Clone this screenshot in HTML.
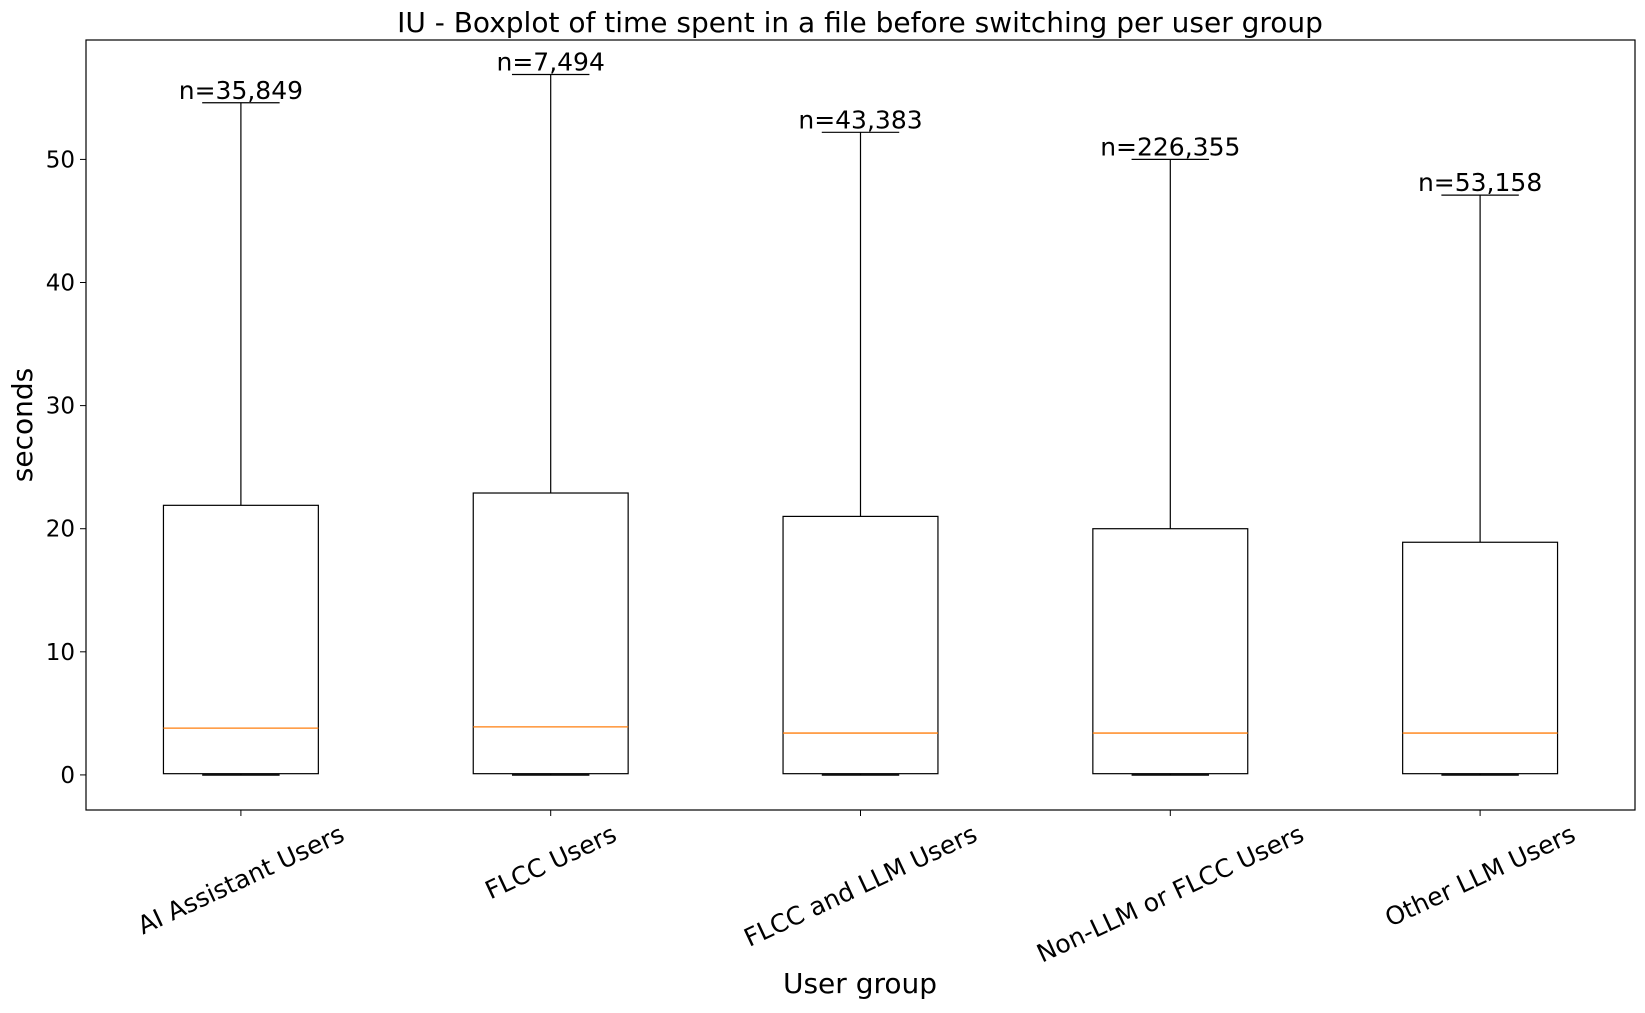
<!DOCTYPE html>
<html><head><meta charset="utf-8"><style>
html,body{margin:0;padding:0;background:#fff;}
svg text{font-family:"DejaVu Sans","Liberation Sans",sans-serif;fill:#000;}
</style></head><body>
<svg id="chart" width="1645" height="1008" xmlns="http://www.w3.org/2000/svg">
<rect width="1645" height="1008" fill="#fff"/>
<text x="860" y="32" font-size="28" text-anchor="middle">IU - Boxplot of time spent in a file before switching per user group</text>
<text x="860" y="993" font-size="28" text-anchor="middle">User group</text>
<text transform="translate(32,425) rotate(-90)" font-size="28" text-anchor="middle">seconds</text>
<g id="plot"></g>
</svg>
<script>
const categories=["AI Assistant Users","FLCC Users","FLCC and LLM Users","Non-LLM or FLCC Users","Other LLM Users"];
const counts=["n=35,849","n=7,494","n=43,383","n=226,355","n=53,158"];
const whiskerLow=[0,0,0,0,0];
const q1=[0.1,0.1,0.1,0.1,0.1];
const medians=[3.8,3.9,3.4,3.4,3.4];
const q3=[21.9,22.9,21.0,20.0,18.9];
const whiskerHigh=[54.6,56.9,52.2,50.0,47.1];
const yTicks=[0,10,20,30,40,50];

const L=86,R=1635,T=40,B=810;
const yMin=-2.85,yMax=59.7;
const sx=i=>L+(i+1-0.5)/(categories.length)*(R-L);
const sy=v=>B-(v-yMin)/(yMax-yMin)*(B-T);
const unit=(R-L)/categories.length;
const g=document.getElementById('plot');
const NS='http://www.w3.org/2000/svg';
function mk(tag,attrs){const e=document.createElementNS(NS,tag);for(const k in attrs)e.setAttribute(k,attrs[k]);g.appendChild(e);return e;}

yTicks.forEach(v=>{
  const t=mk('line',{x1:L-6,x2:L,y1:sy(v),y2:sy(v),stroke:'#000','stroke-width':1});
  
  
  const l=mk('text',{x:L-11,y:sy(v)+8,'font-size':23,'text-anchor':'end'});
  l.textContent=v;
  
  
});

categories.forEach((c,i)=>{
  const x=sx(i),hw=unit*0.25,cw=unit*0.125;
  const w1=mk('line',{x1:x,x2:x,y1:sy(q3[i]),y2:sy(whiskerHigh[i]),stroke:'#000','stroke-width':1.2});
  
  
  const w0=mk('line',{x1:x,x2:x,y1:sy(q1[i]),y2:sy(whiskerLow[i]),stroke:'#000','stroke-width':1.2});
  
  
  const c1=mk('line',{x1:x-cw,x2:x+cw,y1:sy(whiskerHigh[i]),y2:sy(whiskerHigh[i]),stroke:'#000','stroke-width':1.2});
  
  
  const c0=mk('line',{x1:x-cw,x2:x+cw,y1:sy(whiskerLow[i]),y2:sy(whiskerLow[i]),stroke:'#000','stroke-width':1.6});
  
  
  const b=mk('rect',{x:x-hw,y:sy(q3[i]),width:2*hw,height:sy(q1[i])-sy(q3[i]),fill:'none',stroke:'#000','stroke-width':1.2});
  
  
  const m=mk('line',{x1:x-hw,x2:x+hw,y1:sy(medians[i]),y2:sy(medians[i]),stroke:'#ff7f0e','stroke-width':1.3});
  
  
  const n=mk('text',{x:x,y:sy(whiskerHigh[i])-4,'font-size':25,'text-anchor':'middle'});
  n.textContent=counts[i];
  
  
  const tk=mk('line',{x1:x,x2:x,y1:B,y2:B+6,stroke:'#000','stroke-width':1});
  
  
  const tl=mk('text',{'font-size':25,'text-anchor':'middle','dominant-baseline':'central'});
  tl.textContent=c;
  
  
  const len=tl.getComputedTextLength();
  const a=25*Math.PI/180;
  const yc=B+10+(len*Math.sin(a)+27*Math.cos(a))/2;
  tl.setAttribute('transform',`translate(${x},${yc}) rotate(-25)`);
});

const fr=mk('rect',{x:L,y:T,width:R-L,height:B-T,fill:'none',stroke:'#000','stroke-width':1.2});


</script>
</body></html>
